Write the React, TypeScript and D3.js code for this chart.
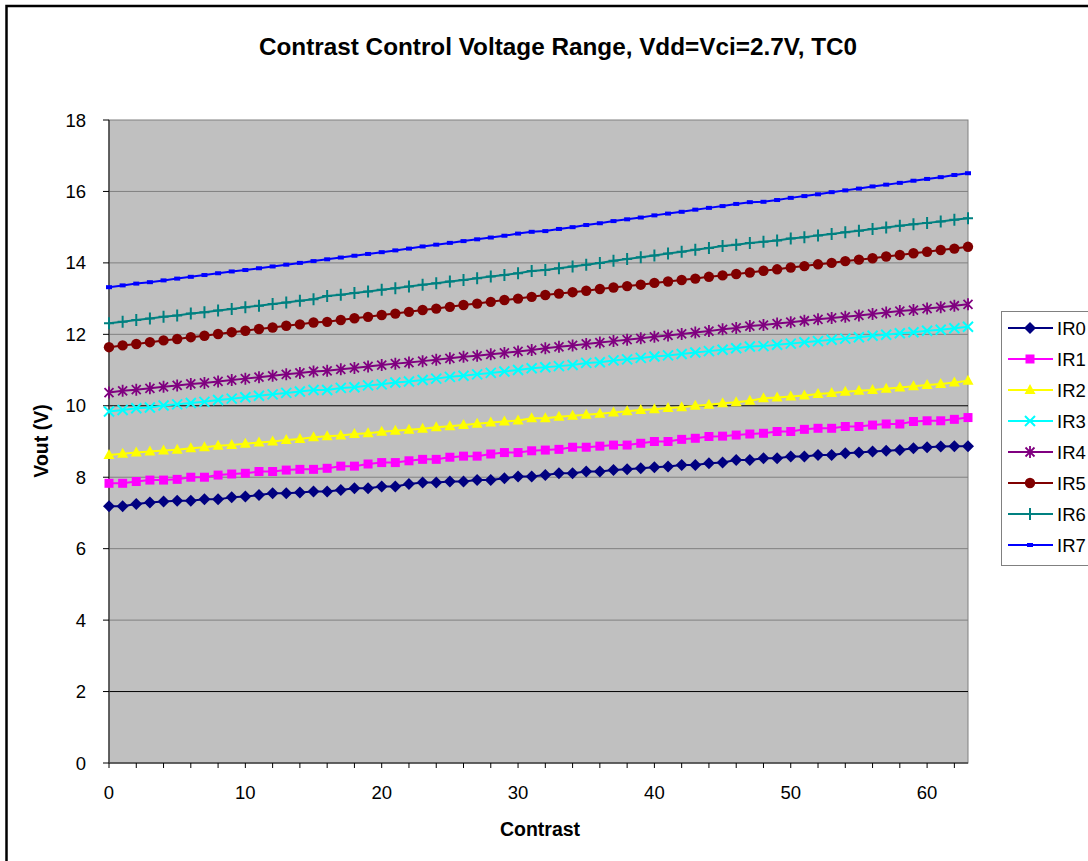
import * as d3 from 'd3';

const MARGIN = { top: 120, right: 120, bottom: 98, left: 109 };
const WIDTH = 1088;
const HEIGHT = 861;

const TITLE = 'Contrast Control Voltage Range, Vdd=Vci=2.7V, TC0';
const X_LABEL = 'Contrast';
const Y_LABEL = 'Vout (V)';
const Y_TICKS = [0, 2, 4, 6, 8, 10, 12, 14, 16, 18];
const X_LABEL_TICKS = [0, 10, 20, 30, 40, 50, 60];

// contrast step 0..63, one reading per step for each IR setting
const ir0 = [
    7.19, 7.19, 7.25, 7.29, 7.32, 7.34, 7.34, 7.38, 7.38, 7.44, 7.46, 7.5, 7.55, 7.55, 7.57, 7.6,
    7.6, 7.64, 7.69, 7.69, 7.74, 7.74, 7.81, 7.85, 7.85, 7.88, 7.88, 7.92, 7.92, 7.97, 8.02, 8.02,
    8.06, 8.11, 8.11, 8.16, 8.16, 8.2, 8.22, 8.25, 8.28, 8.3, 8.34, 8.34, 8.39, 8.41, 8.48, 8.48,
    8.53, 8.53, 8.58, 8.58, 8.62, 8.62, 8.67, 8.69, 8.72, 8.74, 8.76, 8.81, 8.84, 8.86, 8.87, 8.87,
];
const ir1 = [
    7.83, 7.83, 7.88, 7.92, 7.92, 7.94, 8.0, 8.0, 8.06, 8.09, 8.11, 8.16, 8.16, 8.2, 8.22, 8.22,
    8.25, 8.31, 8.31, 8.37, 8.41, 8.41, 8.46, 8.5, 8.5, 8.56, 8.59, 8.59, 8.65, 8.69, 8.69, 8.74,
    8.76, 8.78, 8.84, 8.84, 8.87, 8.9, 8.9, 8.95, 9.0, 9.0, 9.06, 9.09, 9.14, 9.15, 9.18, 9.21,
    9.23, 9.28, 9.28, 9.34, 9.37, 9.37, 9.42, 9.42, 9.46, 9.49, 9.49, 9.56, 9.58, 9.58, 9.62, 9.67,
];
const ir2 = [
    8.62, 8.66, 8.69, 8.72, 8.75, 8.77, 8.81, 8.84, 8.88, 8.9, 8.94, 8.97, 9.0, 9.04, 9.07, 9.12,
    9.15, 9.17, 9.21, 9.23, 9.27, 9.3, 9.33, 9.36, 9.4, 9.43, 9.46, 9.5, 9.53, 9.56, 9.59, 9.65,
    9.65, 9.69, 9.72, 9.75, 9.78, 9.81, 9.85, 9.88, 9.9, 9.94, 9.96, 10.0, 10.03, 10.07, 10.1, 10.14,
    10.21, 10.23, 10.26, 10.29, 10.33, 10.36, 10.39, 10.42, 10.44, 10.48, 10.51, 10.55, 10.58, 10.61, 10.65, 10.7,
];
const ir3 = [
    9.84, 9.88, 9.93, 9.95, 10.01, 10.04, 10.08, 10.11, 10.16, 10.2, 10.24, 10.28, 10.32, 10.36, 10.4, 10.44,
    10.44, 10.5, 10.52, 10.57, 10.6, 10.65, 10.68, 10.72, 10.76, 10.81, 10.84, 10.88, 10.92, 10.96, 11.0, 11.05,
    11.08, 11.11, 11.14, 11.2, 11.22, 11.27, 11.3, 11.34, 11.38, 11.41, 11.45, 11.49, 11.53, 11.57, 11.61, 11.66,
    11.67, 11.71, 11.74, 11.78, 11.81, 11.85, 11.88, 11.92, 11.96, 11.99, 12.03, 12.06, 12.1, 12.13, 12.17, 12.21,
];
const ir4 = [
    10.37, 10.42, 10.45, 10.49, 10.53, 10.57, 10.61, 10.64, 10.68, 10.72, 10.76, 10.8, 10.84, 10.88, 10.92, 10.96,
    10.98, 11.02, 11.06, 11.1, 11.14, 11.18, 11.21, 11.25, 11.29, 11.33, 11.37, 11.4, 11.44, 11.48, 11.52, 11.56,
    11.61, 11.65, 11.69, 11.73, 11.77, 11.81, 11.85, 11.89, 11.93, 11.97, 12.01, 12.05, 12.09, 12.14, 12.18, 12.23,
    12.26, 12.3, 12.34, 12.38, 12.42, 12.46, 12.49, 12.53, 12.57, 12.61, 12.65, 12.68, 12.72, 12.76, 12.8, 12.84,
];
const ir5 = [
    11.64, 11.69, 11.73, 11.78, 11.83, 11.87, 11.92, 11.96, 12.01, 12.06, 12.1, 12.15, 12.19, 12.24, 12.28, 12.33,
    12.35, 12.4, 12.45, 12.49, 12.54, 12.58, 12.63, 12.68, 12.72, 12.77, 12.82, 12.86, 12.91, 12.96, 13.0, 13.05,
    13.1, 13.14, 13.18, 13.22, 13.27, 13.31, 13.35, 13.39, 13.44, 13.48, 13.52, 13.56, 13.61, 13.65, 13.69, 13.73,
    13.78, 13.82, 13.87, 13.91, 13.96, 14.0, 14.05, 14.09, 14.13, 14.18, 14.22, 14.27, 14.31, 14.36, 14.4, 14.45,
];
const ir6 = [
    12.31, 12.35, 12.4, 12.44, 12.49, 12.53, 12.58, 12.62, 12.67, 12.71, 12.76, 12.8, 12.85, 12.89, 12.94, 12.98,
    13.07, 13.11, 13.16, 13.2, 13.25, 13.29, 13.34, 13.39, 13.43, 13.48, 13.52, 13.57, 13.62, 13.66, 13.71, 13.77,
    13.8, 13.85, 13.9, 13.95, 14.0, 14.06, 14.11, 14.16, 14.21, 14.26, 14.31, 14.37, 14.42, 14.47, 14.51, 14.56,
    14.59, 14.63, 14.68, 14.72, 14.77, 14.81, 14.86, 14.9, 14.95, 14.99, 15.04, 15.08, 15.12, 15.16, 15.21, 15.25,
];
const ir7 = [
    13.32, 13.37, 13.42, 13.46, 13.51, 13.56, 13.61, 13.66, 13.71, 13.76, 13.8, 13.85, 13.9, 13.95, 14.0, 14.05,
    14.1, 14.15, 14.2, 14.25, 14.3, 14.35, 14.4, 14.46, 14.51, 14.56, 14.61, 14.66, 14.71, 14.76, 14.82, 14.87,
    14.89, 14.95, 15.0, 15.06, 15.11, 15.17, 15.22, 15.27, 15.33, 15.38, 15.43, 15.49, 15.54, 15.59, 15.65, 15.7,
    15.71, 15.76, 15.82, 15.87, 15.92, 15.98, 16.03, 16.08, 16.14, 16.19, 16.24, 16.3, 16.35, 16.4, 16.46, 16.51,
];

const SERIES_NAMES = ['IR0', 'IR1', 'IR2', 'IR3', 'IR4', 'IR5', 'IR6', 'IR7'];
const SERIES_VALUES = [ir0, ir1, ir2, ir3, ir4, ir5, ir6, ir7];
const COLORS = ['#000080', '#FF00FF', '#FFFF00', '#00FFFF', '#800080', '#800000', '#008080', '#0000FF'];
const MARKERS = ['diamond', 'square', 'triangle', 'x', 'star', 'circle', 'plus', 'dash'];

const FONT = '"Liberation Sans", Arial, sans-serif';

const Marker = ({ kind, x, y, color }: { kind: string; x: number; y: number; color: string }) => {
    switch (kind) {
        case 'diamond':
            return <path d={`M${x},${y - 6}L${x + 6},${y}L${x},${y + 6}L${x - 6},${y}Z`} fill={color} />;
        case 'square':
            return <rect x={x - 4.5} y={y - 4.5} width={9} height={9} fill={color} />;
        case 'triangle':
            return <path d={`M${x},${y - 6}L${x + 5.5},${y + 4}L${x - 5.5},${y + 4}Z`} fill={color} />;
        case 'x':
            return (
                <path
                    d={`M${x - 5},${y - 5}L${x + 5},${y + 5}M${x - 5},${y + 5}L${x + 5},${y - 5}`}
                    stroke={color}
                    strokeWidth={2}
                />
            );
        case 'star':
            return (
                <path
                    d={`M${x - 4.5},${y - 4.5}L${x + 4.5},${y + 4.5}M${x - 4.5},${y + 4.5}L${x + 4.5},${y - 4.5}M${x},${y - 6}L${x},${y + 6}`}
                    stroke={color}
                    strokeWidth={1.8}
                />
            );
        case 'circle':
            return <circle cx={x} cy={y} r={5.2} fill={color} />;
        case 'plus':
            return <path d={`M${x - 5},${y}L${x + 5},${y}M${x},${y - 6}L${x},${y + 6}`} stroke={color} strokeWidth={2} />;
        default:
            return <rect x={x - 3} y={y - 2} width={6} height={4} fill={color} />;
    }
};

export default function App() {
    const boundsRight = WIDTH - MARGIN.right; // 968
    const boundsBottom = HEIGHT - MARGIN.bottom; // 763

    const xScale = d3.scaleLinear().domain([0, 63]).range([MARGIN.left, boundsRight]);
    const yScale = d3.scaleLinear().domain([0, 18]).range([boundsBottom, MARGIN.top]);

    const lineGen = d3
        .line<number>()
        .x((_, i) => xScale(i))
        .y((d) => yScale(d));

    const minorTicks = d3.range(0, 63, 2);

    return (
        <svg width={WIDTH} height={HEIGHT} style={{ position: 'absolute', left: 0, top: 0, fontFamily: FONT }}>
            <rect x={0} y={0} width={WIDTH} height={HEIGHT} fill="#fff" />
            <rect x={6.5} y={6} width={1200} height={1000} fill="none" stroke="#000" strokeWidth={2.5} />

            <text x={558} y={55} textAnchor="middle" fontSize={24.3} fontWeight="bold">
                {TITLE}
            </text>

            {/* plot area */}
            <rect
                x={MARGIN.left}
                y={MARGIN.top}
                width={boundsRight - MARGIN.left}
                height={boundsBottom - MARGIN.top}
                fill="#C0C0C0"
                stroke="#808080"
                strokeWidth={1}
            />
            {Y_TICKS.filter((t) => t > 0 && t < 18).map((t) => (
                <line
                    key={t}
                    x1={MARGIN.left}
                    x2={boundsRight}
                    y1={yScale(t)}
                    y2={yScale(t)}
                    stroke={t === 2 || t === 10 ? '#000' : '#808080'}
                    strokeWidth={1}
                />
            ))}

            {/* axes */}
            <line x1={MARGIN.left} x2={MARGIN.left} y1={MARGIN.top} y2={boundsBottom} stroke="#444" strokeWidth={1.5} />
            <line x1={MARGIN.left} x2={boundsRight} y1={boundsBottom} y2={boundsBottom} stroke="#444" strokeWidth={1.5} />
            {Y_TICKS.map((t) => (
                <g key={t}>
                    <line x1={MARGIN.left - 6} x2={MARGIN.left} y1={yScale(t)} y2={yScale(t)} stroke="#000" />
                    <text x={86} y={yScale(t) + 6.5} textAnchor="end" fontSize={18.5}>
                        {t}
                    </text>
                </g>
            ))}
            {minorTicks.map((t) => (
                <line key={t} x1={xScale(t)} x2={xScale(t)} y1={boundsBottom} y2={boundsBottom + 5} stroke="#000" />
            ))}
            {X_LABEL_TICKS.map((t) => (
                <text key={t} x={xScale(t)} y={799} textAnchor="middle" fontSize={18.5}>
                    {t}
                </text>
            ))}

            <text x={540} y={836} textAnchor="middle" fontSize={19.5} fontWeight="bold">
                {X_LABEL}
            </text>
            <text transform="translate(48,441) rotate(-90)" textAnchor="middle" fontSize={19.5} fontWeight="bold">
                {Y_LABEL}
            </text>

            {/* series */}
            {SERIES_VALUES.map((vals, s) => (
                <g key={SERIES_NAMES[s]}>
                    <path d={lineGen(vals) ?? ''} fill="none" stroke={COLORS[s]} strokeWidth={2} />
                    {vals.map((v, i) => (
                        <Marker key={i} kind={MARKERS[s]} x={xScale(i)} y={yScale(v)} color={COLORS[s]} />
                    ))}
                </g>
            ))}

            {/* legend */}
            <rect x={1001.5} y={311.5} width={120} height={254} fill="#fff" stroke="#808080" strokeWidth={1} />
            {SERIES_NAMES.map((name, s) => {
                const ly = 328 + s * 31;
                return (
                    <g key={name}>
                        <line x1={1008} x2={1053} y1={ly} y2={ly} stroke={COLORS[s]} strokeWidth={2} />
                        <Marker kind={MARKERS[s]} x={1030} y={ly} color={COLORS[s]} />
                        <text x={1057} y={ly + 6.5} fontSize={18.5}>
                            {name}
                        </text>
                    </g>
                );
            })}
        </svg>
    );
}
